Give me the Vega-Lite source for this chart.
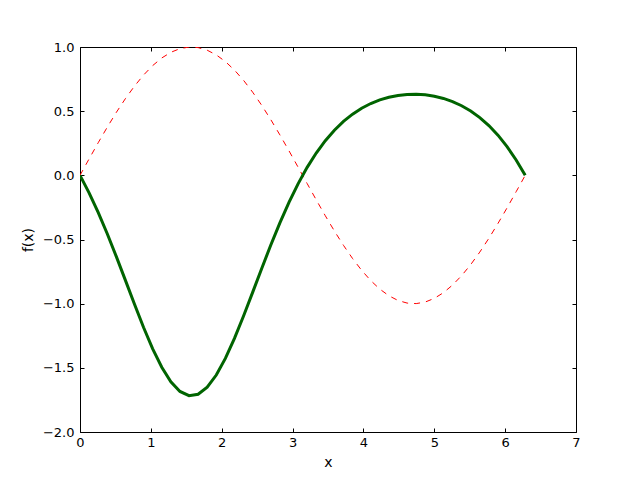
{
  "$schema": "https://vega.github.io/schema/vega-lite/v6.json",
  "width": 496,
  "height": 385,
  "autosize": {"type": "none"},
  "padding": {"left": 80, "top": 47, "right": 64, "bottom": 48},
  "background": "white",
  "config": {
    "view": {"stroke": "black", "strokeWidth": 1},
    "font": "DejaVu Sans",
    "axis": {
      "domain": false,
      "grid": false,
      "tickColor": "black",
      "tickSize": -4,
      "tickWidth": 1,
      "labelFont": "DejaVu Sans",
      "labelFontSize": 13,
      "labelColor": "black",
      "titleFont": "DejaVu Sans",
      "titleFontSize": 14,
      "titleFontWeight": "normal",
      "titleColor": "black",
      "labelFlush": false,
      "labelOverlap": false
    }
  },
  "data": {
    "values": [
      {"x": 0.0, "sin": 0.0, "f": 0.0},
      {"x": 0.128228, "sin": 0.127877, "f": -0.1364},
      {"x": 0.256457, "sin": 0.253655, "f": -0.2887},
      {"x": 0.384685, "sin": 0.375267, "f": -0.4554},
      {"x": 0.512913, "sin": 0.490718, "f": -0.6335},
      {"x": 0.641141, "sin": 0.598111, "f": -0.8187},
      {"x": 0.76937, "sin": 0.695683, "f": -1.0051},
      {"x": 0.897598, "sin": 0.781832, "f": -1.1855},
      {"x": 1.025826, "sin": 0.855143, "f": -1.3517},
      {"x": 1.154054, "sin": 0.914413, "f": -1.4953},
      {"x": 1.282283, "sin": 0.958668, "f": -1.6082},
      {"x": 1.410511, "sin": 0.987182, "f": -1.6837},
      {"x": 1.538739, "sin": 0.999486, "f": -1.7169},
      {"x": 1.666968, "sin": 0.995379, "f": -1.7058},
      {"x": 1.795196, "sin": 0.974928, "f": -1.651},
      {"x": 1.923424, "sin": 0.938468, "f": -1.5561},
      {"x": 2.051652, "sin": 0.886599, "f": -1.4269},
      {"x": 2.179881, "sin": 0.820172, "f": -1.2709},
      {"x": 2.308109, "sin": 0.740278, "f": -1.0965},
      {"x": 2.436337, "sin": 0.648228, "f": -0.9122},
      {"x": 2.564565, "sin": 0.545534, "f": -0.7255},
      {"x": 2.692794, "sin": 0.433884, "f": -0.5432},
      {"x": 2.821022, "sin": 0.315108, "f": -0.3704},
      {"x": 2.94925, "sin": 0.191159, "f": -0.2107},
      {"x": 3.077478, "sin": 0.064071, "f": -0.0662},
      {"x": 3.205707, "sin": -0.064071, "f": 0.0621},
      {"x": 3.333935, "sin": -0.191159, "f": 0.174},
      {"x": 3.462163, "sin": -0.315108, "f": 0.2703},
      {"x": 3.590392, "sin": -0.433884, "f": 0.352},
      {"x": 3.71862, "sin": -0.545534, "f": 0.4205},
      {"x": 3.846848, "sin": -0.648228, "f": 0.477},
      {"x": 3.975076, "sin": -0.740278, "f": 0.523},
      {"x": 4.103305, "sin": -0.820172, "f": 0.5596},
      {"x": 4.231533, "sin": -0.886599, "f": 0.5879},
      {"x": 4.359761, "sin": -0.938468, "f": 0.6088},
      {"x": 4.48799, "sin": -0.974928, "f": 0.6228},
      {"x": 4.616218, "sin": -0.995379, "f": 0.6304},
      {"x": 4.744446, "sin": -0.999486, "f": 0.6319},
      {"x": 4.872674, "sin": -0.987182, "f": 0.6274},
      {"x": 5.000903, "sin": -0.958668, "f": 0.6166},
      {"x": 5.129131, "sin": -0.914413, "f": 0.5992},
      {"x": 5.257359, "sin": -0.855143, "f": 0.5748},
      {"x": 5.385587, "sin": -0.781832, "f": 0.5424},
      {"x": 5.513816, "sin": -0.695683, "f": 0.5013},
      {"x": 5.642044, "sin": -0.598111, "f": 0.4502},
      {"x": 5.770272, "sin": -0.490718, "f": 0.3878},
      {"x": 5.898501, "sin": -0.375267, "f": 0.3129},
      {"x": 6.026729, "sin": -0.253655, "f": 0.224},
      {"x": 6.154957, "sin": -0.127877, "f": 0.12},
      {"x": 6.283185, "sin": 0.0, "f": 0.0}
    ]
  },
  "resolve": {"axis": {"x": "independent", "y": "independent"}},
  "layer": [
    {
      "mark": {"type": "line", "color": "red", "strokeWidth": 1, "strokeDash": [6, 6], "clip": true},
      "encoding": {
        "x": {
          "field": "x", "type": "quantitative",
          "scale": {"domain": [0, 7], "nice": false, "zero": false},
          "axis": {"orient": "bottom", "title": "x", "values": [0, 1, 2, 3, 4, 5, 6, 7], "format": "d", "labelPadding": 8, "titlePadding": 6}
        },
        "y": {
          "field": "sin", "type": "quantitative",
          "scale": {"domain": [-2, 1], "nice": false, "zero": false},
          "axis": {"orient": "left", "title": "f(x)", "values": [-2, -1.5, -1, -0.5, 0, 0.5, 1], "format": ".1f", "labelPadding": 10, "titlePadding": 7}
        }
      }
    },
    {
      "mark": {"type": "line", "color": "#006400", "strokeWidth": 3, "clip": true},
      "encoding": {
        "x": {
          "field": "x", "type": "quantitative",
          "axis": {"orient": "top", "title": null, "labels": false, "values": [0, 1, 2, 3, 4, 5, 6, 7]}
        },
        "y": {
          "field": "f", "type": "quantitative",
          "axis": {"orient": "right", "title": null, "labels": false, "values": [-2, -1.5, -1, -0.5, 0, 0.5, 1]}
        }
      }
    }
  ]
}
